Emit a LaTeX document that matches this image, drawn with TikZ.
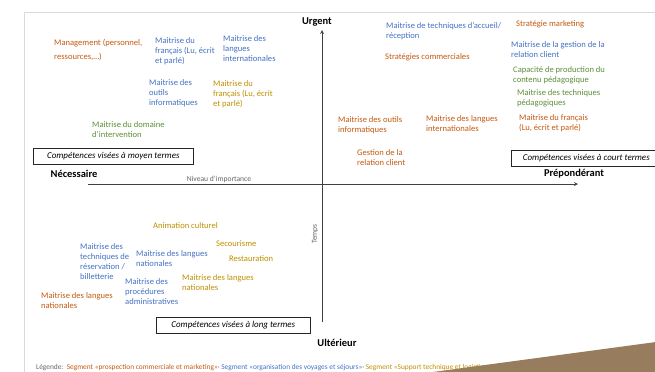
\documentclass[tikz,border=0pt]{standalone}
\usepackage{fontspec}
\setmainfont{Carlito}
\usepackage{tikz}
\usetikzlibrary{arrows,positioning,calc}

\definecolor{cProsp}{HTML}{C55A11}
\definecolor{cOrga}{HTML}{4472C4}
\definecolor{cSupp}{HTML}{BF9000}
\definecolor{cPeda}{HTML}{5E8E3A}
\definecolor{cAxe}{HTML}{404040}
\definecolor{cCadre}{HTML}{D9D9D9}
\definecolor{cBrun}{HTML}{977C5D}

\begin{document}
\begin{tikzpicture}[x=1bp,y=-1bp]
\tikzset{item/.style={anchor=north west,inner sep=0pt,align=left,font=\fontsize{8.6}{10}\selectfont}}
\tikzset{prosp/.style={item,text=cProsp}}
\tikzset{orga/.style={item,text=cOrga}}
\tikzset{supp/.style={item,text=cSupp}}
\tikzset{peda/.style={item,text=cPeda}}
\tikzset{pole/.style={inner sep=0pt,font=\fontsize{10.5}{11}\selectfont\bfseries}}
\tikzset{petit/.style={inner sep=0pt,text=black!60,font=\fontsize{7.6}{8}\selectfont}}
\tikzset{boite/.style={draw=black!85,line width=0.6pt,anchor=north west,inner sep=0pt,
  font=\fontsize{9}{10}\selectfont\itshape,minimum height=16bp}}
\tikzset{axe/.style={draw=cAxe,line width=0.8pt}}

\useasboundingbox[fill=white] (0,0) rectangle (655,371);
% cadre
\draw[cCadre,line width=0.8pt] (660,12) -- (24,12) -- (24,380);

% axes
\coordinate (yhaut) at (322,30);
\coordinate (ybas) at (322,322);
\coordinate (xgauche) at (88,184);
\coordinate (xdroite) at (578,184);
\draw[axe,-stealth] (ybas) -- (yhaut);
\draw[axe,-stealth] (xgauche) -- (xdroite);
\node[pole] (urgent) at (317,22) {Urgent};
\node[pole] (ulterieur) at (337,343) {Ultérieur};
\node[pole] (necessaire) at (74,174) {Nécessaire};
\node[pole] (prepond) at (574,174) {Prépondérant};
\node[petit] (niveau) at (219,179) {Niveau d'importance};
\node[petit,rotate=90] (temps) at (315,234) {Temps};

% cadres d'horizon
\node[boite,minimum width=160bp] (moyen) at (33,148) {Compétences visées à moyen termes};
\node[boite,minimum width=150bp] (court) at (511,150) {Compétences visées à court termes};
\node[boite,minimum width=154bp] (long) at (156,317) {Compétences visées à long termes};

% nécessaire / urgent
\node[prosp,font=\fontsize{8.6}{14}\selectfont] (mgmt) at (54,39) {Management (personnel,\\ressources,…)};
\node[orga] (frA) at (155,37) {Maitrise du\\français (Lu, écrit\\et parlé)};
\node[orga] (langintA) at (223,35) {Maitrise des\\langues\\internationales};
\node[orga] (outilsA) at (149,79) {Maitrise des\\outils\\informatiques};
\node[supp] (frB) at (213,80) {Maitrise du\\français (Lu, écrit\\et parlé)};
\node[peda] (domaine) at (92,121) {Maitrise du domaine\\d'intervention};

% prépondérant / urgent
\node[orga] (accueil) at (386,22) {Maitrise de techniques d'accueil/\\réception};
\node[prosp] (stratmkt) at (516,20) {Stratégie marketing};
\node[orga] (gestrel) at (511,41) {Maitrise de la gestion de la\\relation client};
\node[prosp] (stratcom) at (385,53) {Stratégies commerciales};
\node[peda] (capprod) at (513,66) {Capacité de production du\\contenu pédagogique};
\node[peda] (techped) at (517,89) {Maitrise des techniques\\pédagogiques};
\node[prosp] (outilsB) at (338,116) {Maitrise des outils\\informatiques};
\node[prosp] (langintB) at (426,115) {Maitrise des langues\\internationales};
\node[prosp] (frC) at (519,114) {Maitrise du français\\(Lu, écrit et parlé)};
\node[prosp] (gestcli) at (357,149) {Gestion de la\\relation client};

% nécessaire / ultérieur
\node[supp] (anim) at (153,222) {Animation culturel};
\node[supp] (secour) at (216,240) {Secourisme};
\node[supp] (restau) at (229,255) {Restauration};
\node[orga,font=\fontsize{8.6}{10.3}\selectfont] (resa) at (80,243) {Maitrise des\\techniques de\\réservation /\\billetterie};
\node[orga] (langnatA) at (136,250) {Maitrise des langues\\nationales};
\node[supp] (langnatB) at (182,274) {Maitrise des langues\\nationales};
\node[orga] (procadm) at (125,278) {Maitrise des\\procédures\\administratives};
\node[prosp] (langnatC) at (41,292) {Maitrise des langues\\nationales};

% légende
\node[anchor=base west,inner sep=0pt,font=\fontsize{7.4}{8}\selectfont] (legende) at (36,369.5)
  {\textcolor{black!60}{Légende:}\ \ \textcolor{cProsp}{Segment «prospection commerciale et marketing»}\textcolor{black!60}{ · }\textcolor{cOrga}{Segment «organisation des voyages et séjours»}\textcolor{black!60}{ · }\textcolor{cSupp}{Segment «Support technique et logistique»}};
\fill[cBrun] (433,372) -- (656,342) -- (656,372) -- cycle;
\end{tikzpicture}
\end{document}
